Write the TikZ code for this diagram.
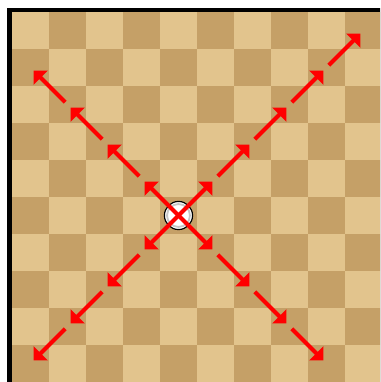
\documentclass[tikz,border=0pt]{standalone}
\usetikzlibrary{arrows.meta}
\definecolor{lightsq}{RGB}{226,196,141}
\definecolor{darksq}{RGB}{197,160,103}
\definecolor{movered}{RGB}{255,0,0}

\begin{document}
\begin{tikzpicture}[x=1cm, y=-1cm,
    move/.style={-{Triangle[length=0.27cm, width=0.53cm]}, line width=3pt, movered, shorten >=0.12cm},
    next/.style={shorten <=0.09cm}]
  \clip (-0.324,-0.324) rectangle (9.946,10.0);
  % frame and board
  \fill[black] (-0.14,-0.11) rectangle (10.5,10.5);
  \foreach \c in {0,...,9}
    \foreach \r in {0,...,9} {
      \pgfmathtruncatemacro{\sqpar}{mod(\c+\r,2)}
      \ifnum\sqpar=0
        \fill[lightsq] (\c,\r) rectangle ++(1,1);
      \else
        \fill[darksq] (\c,\r) rectangle ++(1,1);
      \fi
    }
  % the piece
  \node[circle, minimum size=0.76cm, inner sep=0pt, fill=white, draw=black, line width=0.9pt] (piece) at (4.5,5.5) {};
  \draw[gray!45, line width=1.4pt] (piece.center) circle (0.31cm);
  \fill[gray!70] (piece.center) circle (0.05cm);
  % target squares along the diagonals
  \foreach \i in {1,...,4} {
    \coordinate (ul\i) at ({4.5-\i},{5.5-\i});
    \coordinate (dl\i) at ({4.5-\i},{5.5+\i});
    \coordinate (dr\i) at ({4.5+\i},{5.5+\i});
  }
  \foreach \i in {1,...,5}
    \coordinate (ur\i) at ({4.5+\i},{5.5-\i});
  % moves
  \foreach \d in {ul,ur,dl,dr}
    \draw[move] (piece.center) -- (\d1);
  \foreach \d in {ul,dl,dr}
    \foreach \i/\j in {1/2,2/3,3/4}
      \draw[move, next] (\d\i) -- (\d\j);
  \foreach \i/\j in {1/2,2/3,3/4,4/5}
    \draw[move, next] (ur\i) -- (ur\j);
\end{tikzpicture}
\end{document}
